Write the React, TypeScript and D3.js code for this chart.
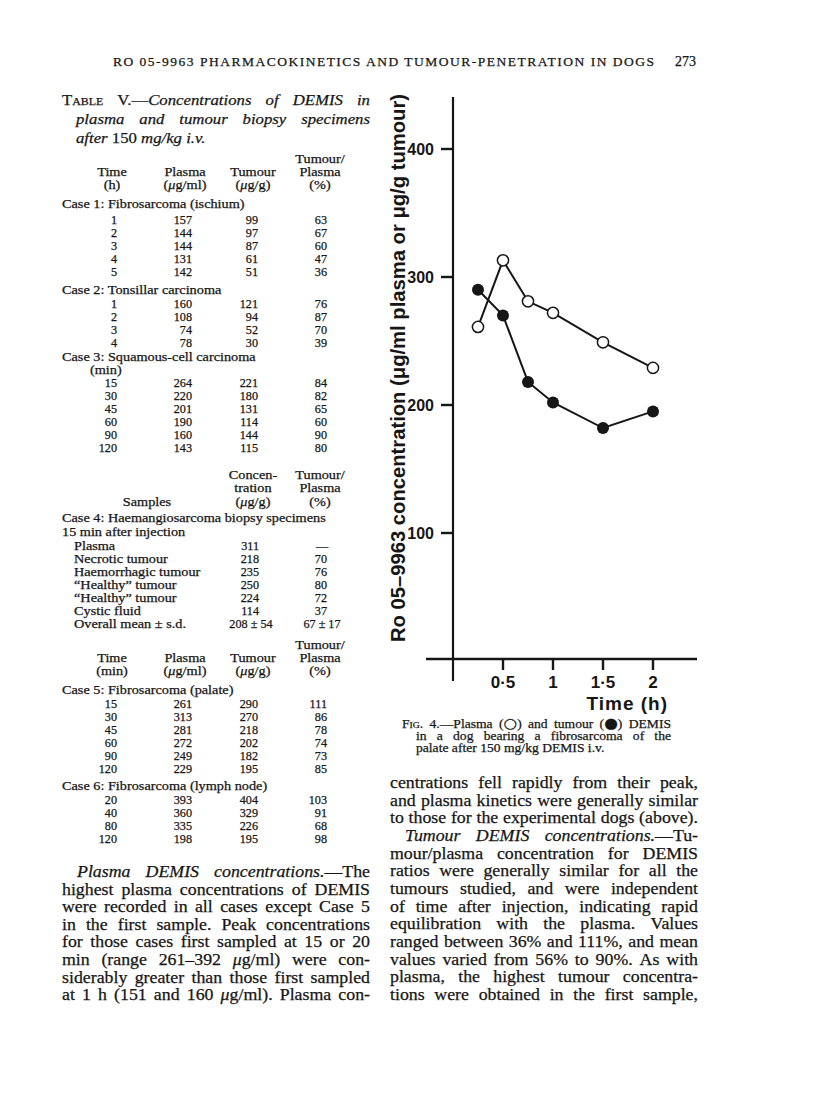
import React from 'react';
import * as d3 from 'd3';

// Case 5 (palate) — the values plotted in Fig. 4
const caseFiveTimes = [15, 30, 45, 60, 90, 120];
const caseFivePlasma = [261, 313, 281, 272, 249, 229];
const caseFiveTumour = [290, 270, 218, 202, 182, 195];
const caseFiveRatio = [111, 86, 78, 74, 73, 85];

const yTicks = [100, 200, 300, 400];
const xTicks = [0.5, 1, 1.5, 2];
const xTickLabels = ['0·5', '1', '1·5', '2'];

// rest of Table V
const caseOneRows = [[1, 157, 99, 63], [2, 144, 97, 67], [3, 144, 87, 60], [4, 131, 61, 47], [5, 142, 51, 36]];
const caseTwoRows = [[1, 160, 121, 76], [2, 108, 94, 87], [3, 74, 52, 70], [4, 78, 30, 39]];
const caseThreeRows = [[15, 264, 221, 84], [30, 220, 180, 82], [45, 201, 131, 65], [60, 190, 114, 60], [90, 160, 144, 90], [120, 143, 115, 80]];
const caseFourSamples = ['Plasma', 'Necrotic tumour', 'Haemorrhagic tumour', '“Healthy” tumour', '“Healthy” tumour', 'Cystic fluid', 'Overall mean ± s.d.'];
const caseFourConc = ['311', '218', '235', '250', '224', '114', '208 ± 54'];
const caseFourRatio = ['—', '70', '76', '80', '72', '37', '67 ± 17'];
const caseSixRows = [[20, 393, 404, 103], [40, 360, 329, 91], [80, 335, 226, 68], [120, 198, 195, 98]];

// *...* = italic, ^...^ = small caps
const titleLines = ['^Table^ V.—*Concentrations* *of* *DEMIS* *in*', '*plasma* *and* *tumour* *biopsy* *specimens*', '*after* 150 *mg/kg* *i.v.*'];
const captionLines = ['^Fig.^ 4.—Plasma (○) and tumour (●) DEMIS', 'in a dog bearing a fibrosarcoma of the', 'palate after 150 mg/kg DEMIS i.v.'];
const leftParagraph = [
  '*Plasma* *DEMIS* *concentrations.*—The',
  'highest plasma concentrations of DEMIS',
  'were recorded in all cases except Case 5',
  'in the first sample. Peak concentrations',
  'for those cases first sampled at 15 or 20',
  'min (range 261–392 *μ*g/ml) were con-',
  'siderably greater than those first sampled',
  'at 1 h (151 and 160 *μ*g/ml). Plasma con-',
];
const rightParagraph = [
  'centrations fell rapidly from their peak,',
  'and plasma kinetics were generally similar',
  'to those for the experimental dogs (above).',
  '*Tumour* *DEMIS* *concentrations.*—Tu-',
  'mour/plasma concentration for DEMIS',
  'ratios were generally similar for all the',
  'tumours studied, and were independent',
  'of time after injection, indicating rapid',
  'equilibration with the plasma. Values',
  'ranged between 36% and 111%, and mean',
  'values varied from 56% to 90%. As with',
  'plasma, the highest tumour concentra-',
  'tions were obtained in the first sample,',
];

const SERIF = '"Liberation Serif", "Times New Roman", serif';
const SYMBOL = '"DejaVu Sans", sans-serif';
const SANS = '"Liberation Sans Narrow", "Liberation Sans", Arial, sans-serif';
const INK = '#161616';
const INK_W = 0.25; // a touch of weight, the scan is heavy

type Run = { t: string; it: boolean; sc: boolean; sym: boolean };

let ctx: CanvasRenderingContext2D | null = null;
const fontStr = (size: number, r: Run) =>
  r.sym
    ? `${size * 1.15}px ${SYMBOL}`
    : `${r.it ? 'italic ' : ''}${r.sc ? 'small-caps ' : ''}${size}px ${SERIF}`;
const measure = (r: Run, size: number) => {
  if (!ctx) ctx = document.createElement('canvas').getContext('2d');
  ctx!.font = fontStr(size, r);
  return ctx!.measureText(r.t).width;
};

function parseRuns(word: string): Run[] {
  const runs: Run[] = [];
  let it = false, sc = false, cur = '';
  const push = () => { if (cur) runs.push({ t: cur, it, sc, sym: false }); cur = ''; };
  for (const ch of word) {
    if (ch === '*') { push(); it = !it; }
    else if (ch === '^') { push(); sc = !sc; }
    else if (ch === '○' || ch === '●') { push(); runs.push({ t: ch, it: false, sc: false, sym: true }); }
    else cur += ch;
  }
  push();
  return runs;
}

const runWidth = (runs: Run[], size: number) => runs.reduce((s, r) => s + measure(r, size), 0);

function Runs({ runs, size }: { runs: Run[]; size: number }) {
  return (
    <>
      {runs.map((r, j) => (
        <tspan
          key={j}
          fontStyle={r.it ? 'italic' : 'normal'}
          fontFamily={r.sym ? SYMBOL : SERIF}
          fontSize={r.sym ? size * 1.15 : size}
          style={{ fontVariant: r.sc ? 'small-caps' : 'normal' }}
        >
          {r.t}
        </tspan>
      ))}
    </>
  );
}

// one line of running text, word by word, justified between x0 and x1.
// words are widened a little (the original face is a broad Century)
function TextLine({ text, x0, x1, y, size, justify, widen = 1.08 }: { text: string; x0: number; x1: number; y: number; size: number; justify: boolean; widen?: number }) {
  const words = text.split(' ').map(parseRuns);
  const natural = words.map((w) => runWidth(w, size));
  const sum = natural.reduce((a, b) => a + b, 0);
  const n = words.length;
  let k = widen;
  if (justify && n > 1) k = Math.min(widen, (x1 - x0 - 3 * (n - 1)) / sum);
  const widths = natural.map((w) => w * k);
  const total = sum * k;
  const gap = justify && n > 1 ? (x1 - x0 - total) / (n - 1) : measure({ t: ' ', it: false, sc: false, sym: false }, size) * k;
  let cx = x0;
  return (
    <g>
      {words.map((w, i) => {
        const el = (
          <text key={i} x={cx} y={y} fontSize={size} fontFamily={SERIF} fill={INK} stroke={INK} strokeWidth={INK_W}
            textLength={widths[i]} lengthAdjust="spacingAndGlyphs">
            <Runs runs={w} size={size} />
          </text>
        );
        cx += widths[i] + gap;
        return el;
      })}
    </g>
  );
}

const T = 12.2; // table font size
const TEXT_WIDEN = 1.17;
const colTime = 117, colPlasma = 192, colTumour = 258, colRatio = 327;
const hdrTime = 112, hdrPlasma = 185, hdrTumour = 253, hdrRatio = 320;

function Cell({ x, y, anchor = 'end', text, widen = TEXT_WIDEN }: { x: number; y: number; anchor?: string; text: string | number; widen?: number }) {
  const runs = parseRuns(String(text));
  const w = runWidth(runs, T) * widen;
  return (
    <text x={x} y={y} fontSize={T} fontFamily={SERIF} fill={INK} stroke={INK} strokeWidth={INK_W} textAnchor={anchor}
      textLength={w} lengthAdjust="spacingAndGlyphs" xmlSpace="preserve">
      <Runs runs={runs} size={T} />
    </text>
  );
}

function NumRows({ rows, y0 }: { rows: number[][]; y0: number }) {
  return (
    <g>
      {rows.map((r, i) => (
        <g key={i}>
          <Cell x={colTime} y={y0 + i * 13} text={r[0]} widen={1} />
          <Cell x={colPlasma} y={y0 + i * 13} text={r[1]} widen={1} />
          <Cell x={colTumour} y={y0 + i * 13} text={r[2]} widen={1} />
          <Cell x={colRatio} y={y0 + i * 13} text={r[3]} widen={1} />
        </g>
      ))}
    </g>
  );
}

function ColHeader({ y, unit }: { y: number; unit: string }) {
  return (
    <g>
      <Cell x={hdrRatio} y={y} anchor="middle" text="Tumour/" />
      <Cell x={hdrTime} y={y + 13} anchor="middle" text="Time" />
      <Cell x={hdrPlasma} y={y + 13} anchor="middle" text="Plasma" />
      <Cell x={hdrTumour} y={y + 13} anchor="middle" text="Tumour" />
      <Cell x={hdrRatio} y={y + 13} anchor="middle" text="Plasma" />
      <Cell x={hdrTime} y={y + 26} anchor="middle" text={unit} />
      <Cell x={hdrPlasma} y={y + 26} anchor="middle" text="(*μ*g/ml)" />
      <Cell x={hdrTumour} y={y + 26} anchor="middle" text="(*μ*g/g)" />
      <Cell x={hdrRatio} y={y + 26} anchor="middle" text="(%)" />
    </g>
  );
}

export default function App() {
  const x = d3.scaleLinear().domain([0, 2]).range([453, 653]);
  const y = d3.scaleLinear().domain([100, 400]).range([533, 149]);
  const toPts = (vals: number[]) => caseFiveTimes.map((t, i) => [t / 60, vals[i]] as [number, number]);
  const line = d3.line<[number, number]>().x((d) => x(d[0])).y((d) => y(d[1]));
  const plasmaPts = toPts(caseFivePlasma);
  const tumourPts = toPts(caseFiveTumour);
  const axisY = 659;

  const LX0 = 62, LX1 = 370, RX0 = 390, RX1 = 698;

  return (
    <svg width={816} height={1114} style={{ position: 'absolute', left: 0, top: 0, background: '#fff' }}>
      <rect width={816} height={1114} fill="#fff" />

      {/* running head */}
      <text x={113} y={66} fontSize={13.5} fontFamily={SERIF} fill={INK} stroke={INK} strokeWidth={INK_W} textLength={541} lengthAdjust="spacing">
        RO 05-9963 PHARMACOKINETICS AND TUMOUR-PENETRATION IN DOGS
      </text>
      <text x={696} y={66} fontSize={14} fontFamily={SERIF} fill={INK} stroke={INK} strokeWidth={INK_W} textAnchor="end">273</text>

      {/* table title */}
      {titleLines.map((s, i) => (
        <TextLine key={i} text={s} x0={i === 0 ? LX0 : 76} x1={LX1} y={105 + i * 19} size={15.5} justify={i < 2} />
      ))}

      <ColHeader y={163} unit="(h)" />
      <Cell x={LX0} y={208} anchor="start" text="Case 1: Fibrosarcoma (ischium)" />
      <NumRows rows={caseOneRows} y0={224} />
      <Cell x={LX0} y={294} anchor="start" text="Case 2: Tonsillar carcinoma" />
      <NumRows rows={caseTwoRows} y0={308} />
      <Cell x={LX0} y={361} anchor="start" text="Case 3: Squamous-cell carcinoma" />
      <Cell x={90} y={374} anchor="start" text="(min)" />
      <NumRows rows={caseThreeRows} y0={387} />

      {/* case 4 block */}
      <Cell x={hdrTumour} y={479} anchor="middle" text="Concen-" />
      <Cell x={hdrRatio} y={479} anchor="middle" text="Tumour/" />
      <Cell x={hdrTumour} y={492} anchor="middle" text="tration" />
      <Cell x={hdrRatio} y={492} anchor="middle" text="Plasma" />
      <Cell x={147} y={506} anchor="middle" text="Samples" />
      <Cell x={hdrTumour} y={506} anchor="middle" text="(*μ*g/g)" />
      <Cell x={hdrRatio} y={506} anchor="middle" text="(%)" />
      <Cell x={LX0} y={522} anchor="start" text="Case 4: Haemangiosarcoma biopsy specimens" />
      <Cell x={LX0} y={536} anchor="start" text="15 min after injection" />
      {caseFourSamples.map((s, i) => {
        const yy = 550 + i * 13;
        const last = i === caseFourSamples.length - 1;
        const dash = caseFourRatio[i] === '—';
        return (
          <g key={i}>
            <Cell x={74} y={yy} anchor="start" text={s} />
            <Cell x={last ? 251 : colTumour + 1} y={yy} anchor={last ? 'middle' : 'end'} text={caseFourConc[i]} widen={1} />
            <Cell x={last || dash ? 322 : colRatio} y={yy} anchor={last || dash ? 'middle' : 'end'} text={caseFourRatio[i]} widen={1} />
          </g>
        );
      })}

      <ColHeader y={649} unit="(min)" />
      <Cell x={LX0} y={694} anchor="start" text="Case 5: Fibrosarcoma (palate)" />
      <NumRows rows={caseFiveTimes.map((t, i) => [t, caseFivePlasma[i], caseFiveTumour[i], caseFiveRatio[i]])} y0={708} />
      <Cell x={LX0} y={790} anchor="start" text="Case 6: Fibrosarcoma (lymph node)" />
      <NumRows rows={caseSixRows} y0={804} />

      {/* body text */}
      {leftParagraph.map((s, i) => (
        <TextLine key={i} text={s} x0={i === 0 ? LX0 + 15 : LX0} x1={LX1} y={877 + i * 17.62} size={16.5} justify />
      ))}
      {rightParagraph.map((s, i) => (
        <TextLine key={i} text={s} x0={i === 3 ? RX0 + 15 : RX0} x1={RX1} y={788 + i * 17.67} size={16.5} justify />
      ))}

      {/* Fig. 4 */}
      <g>
        <line x1={453} x2={453} y1={97} y2={681} stroke={INK} strokeWidth={2.2} />
        <line x1={426} x2={697} y1={axisY} y2={axisY} stroke={INK} strokeWidth={2.4} />
        {yTicks.map((t) => (
          <g key={t}>
            <line x1={441} x2={453} y1={y(t)} y2={y(t)} stroke={INK} strokeWidth={2.4} />
            <text x={434} y={y(t) + 5.5} textAnchor="end" fontFamily={SANS} fontWeight="bold" fontSize={16} fill={INK}>{t}</text>
          </g>
        ))}
        {xTicks.map((t, i) => (
          <g key={t}>
            <line x1={x(t)} x2={x(t)} y1={axisY} y2={axisY + 11} stroke={INK} strokeWidth={2.4} />
            <text x={x(t)} y={688} textAnchor="middle" fontFamily={SANS} fontWeight="bold" fontSize={17} fill={INK}>{xTickLabels[i]}</text>
          </g>
        ))}
        <text x={668} y={710} textAnchor="end" fontFamily={SANS} fontWeight="bold" fontSize={19} letterSpacing={1} fill={INK}>Time (h)</text>
        <text
          transform="translate(405,368) rotate(-90)"
          textAnchor="middle"
          fontFamily={SANS}
          fontWeight="bold"
          fontSize={20}
          fill={INK}
          textLength={548}
          lengthAdjust="spacingAndGlyphs"
        >
          Ro 05–9963  concentration  (μg/ml plasma or μg/g tumour)
        </text>

        <path d={line(tumourPts) || ''} fill="none" stroke={INK} strokeWidth={2} />
        <path d={line(plasmaPts) || ''} fill="none" stroke={INK} strokeWidth={2} />
        {tumourPts.map((d, i) => (
          <circle key={'t' + i} cx={x(d[0])} cy={y(d[1])} r={6} fill={INK} />
        ))}
        {plasmaPts.map((d, i) => (
          <circle key={'p' + i} cx={x(d[0])} cy={y(d[1])} r={5.6} fill="#fff" stroke={INK} strokeWidth={1.5} />
        ))}
      </g>

      {captionLines.map((s, i) => (
        <TextLine key={i} text={s} x0={i === 0 ? 402 : 416} x1={671} y={728 + i * 11.8} size={12.6} justify={i < 2} />
      ))}
    </svg>
  );
}
